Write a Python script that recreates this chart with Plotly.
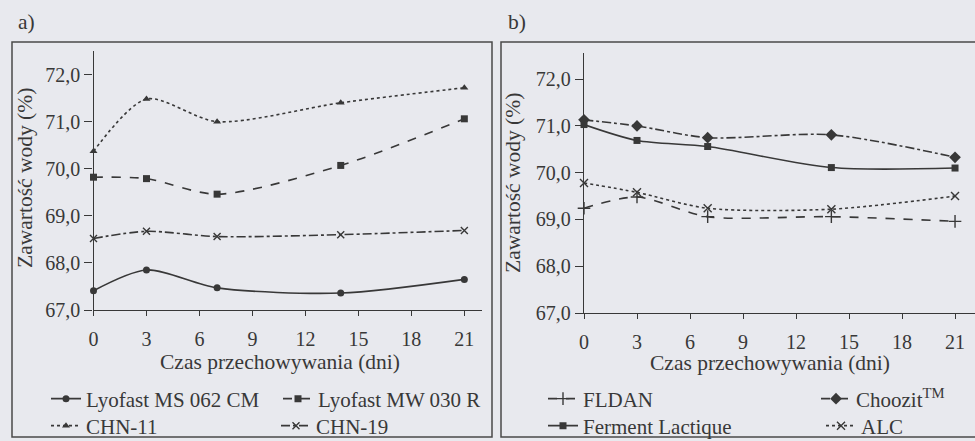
import plotly.graph_objects as go

days = [0, 3, 7, 14, 21]

# Panel a)
lyofast_ms = [67.41, 67.85, 67.47, 67.36, 67.65]
lyofast_mw = [69.82, 69.79, 69.46, 70.07, 71.06]
chn11 = [70.37, 71.48, 71.00, 71.40, 71.72]
chn19 = [68.52, 68.67, 68.56, 68.60, 68.69]

# Panel b)
fldan = [69.24, 69.48, 69.06, 69.06, 68.96]
ferment = [71.03, 70.69, 70.56, 70.11, 70.10]
choozit = [71.13, 71.00, 70.75, 70.81, 70.33]
alc = [69.78, 69.58, 69.24, 69.22, 69.50]

xticks = [0, 3, 6, 9, 12, 15, 18, 21]
yticks = [67, 68, 69, 70, 71, 72]

INK = "#383838"
BG = "#e8e9ee"
FONT = "Liberation Serif"

W, H = 975, 441
def px(x): return x / W
def py(y): return (H - y) / H

fig = go.Figure()

legend_layout = {}
counter = [0]

def add(y, name, dash, symbol, xa, ya, text_x, row_y, msize=7, open_=False):
    counter[0] += 1
    lid = "legend" if counter[0] == 1 else f"legend{counter[0]}"
    fig.add_trace(go.Scatter(
        x=days, y=y, name=name, mode="lines+markers",
        line=dict(color=INK, width=1.6, dash=dash, shape="spline", smoothing=0.8),
        marker=dict(symbol=symbol, size=msize, color=INK,
                    line=dict(color=INK, width=1.4 if open_ else 0)),
        xaxis=xa, yaxis=ya, legend=lid, cliponaxis=False, showlegend=True,
    ))
    legend_layout[lid] = dict(
        x=px(text_x - 32), xanchor="left",
        y=py(row_y), yanchor="middle",
        bgcolor="rgba(0,0,0,0)", borderwidth=0, itemwidth=30,
        font=dict(family=FONT, size=21, color=INK),
    )

add(lyofast_ms, "Lyofast MS 062 CM", "solid", "circle", "x", "y", 78, 399)
add(lyofast_mw, "Lyofast MW 030 R", "dash", "square", "x", "y", 310, 399)
add(chn11, "CHN-11", "dot", "triangle-up", "x", "y", 78, 426)
add(chn19, "CHN-19", "dashdot", "x-thin-open", "x", "y", 308, 426, msize=7, open_=True)

add(fldan, "FLDAN", "dash", "cross-thin-open", "x2", "y2", 575, 399, msize=9, open_=True)
add(choozit, "Choozit<sup>TM</sup>", "dashdot", "diamond", "x2", "y2", 848, 399, msize=9)
add(ferment, "Ferment Lactique", "solid", "square", "x2", "y2", 575, 426)
add(alc, "ALC", "dot", "x-thin-open", "x2", "y2", 853, 426, msize=8, open_=True)

axis_common = dict(
    showline=True, linecolor=INK, linewidth=1.3, ticks="outside",
    tickcolor=INK, tickwidth=1.2, showgrid=False, zeroline=False,
    tickfont=dict(family=FONT, size=20, color=INK),
)

fig.update_layout(
    width=W, height=H, margin=dict(l=0, r=0, t=0, b=0, autoexpand=False),
    paper_bgcolor=BG, plot_bgcolor=BG, separators=", ", showlegend=True,
    font=dict(family=FONT, color=INK, size=20),
    xaxis=dict(domain=[px(93.5), px(482)], range=[0, 22], tickvals=xticks,
               ticklen=5, ticklabelstandoff=6, anchor="y", **axis_common),
    yaxis=dict(domain=[py(310), py(51)], range=[67, 72.5], tickvals=yticks,
               tickformat=".1f", ticklen=8, ticklabelstandoff=0, anchor="x", **axis_common),
    xaxis2=dict(domain=[px(584), 1.0], range=[0, 22.13], tickvals=xticks,
                ticklen=5, ticklabelstandoff=6, anchor="y2", **axis_common),
    yaxis2=dict(domain=[py(313), py(53)], range=[67, 72.56], tickvals=yticks,
                tickformat=".1f", ticklen=8, ticklabelstandoff=0, anchor="x2", **axis_common),
    **legend_layout,
)

ann_font = dict(family=FONT, size=21.5, color=INK)
annotations = [
    dict(text="a)", x=px(26), y=py(22)),
    dict(text="b)", x=px(517), y=py(22)),
    dict(text="Czas przechowywania (dni)", x=px(280), y=py(362)),
    dict(text="Czas przechowywania (dni)", x=px(770), y=py(363)),
    dict(text="Zawartość wody (%)", x=px(25), y=py(178), textangle=-90),
    dict(text="Zawartość wody (%)", x=px(513), y=py(183), textangle=-90),
]
for a in annotations:
    fig.add_annotation(xref="paper", yref="paper", showarrow=False,
                       xanchor="center", yanchor="middle", font=ann_font, **a)

frame = dict(type="rect", xref="paper", yref="paper",
             line=dict(color="#4a4a4a", width=1.5), fillcolor="rgba(0,0,0,0)", layer="below")
fig.add_shape(x0=px(12), x1=px(492), y0=py(437), y1=py(42), **frame)
fig.add_shape(x0=px(501), x1=px(990), y0=py(437), y1=py(42), **frame)

fig.write_html("out.html")
